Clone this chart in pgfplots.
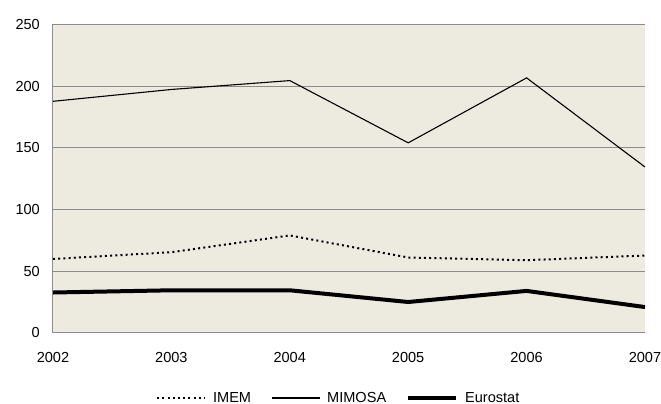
\documentclass[border=0pt]{standalone}
\usepackage{pgfplots}
\pgfplotsset{compat=1.18}
\usepackage{fontspec}
\setmainfont{Liberation Sans}
\definecolor{bgc}{HTML}{EDEAE0}
\definecolor{gridc}{HTML}{8C8C8C}
\begin{document}
\begin{tikzpicture}[x=1bp,y=1bp]
\begin{axis}[
  at={(0,0)}, anchor=south west,
  scale only axis, width=592bp, height=308.2bp,
  xmin=2002, xmax=2007, ymin=0, ymax=250,
  xtick={2002,...,2007}, ytick={0,50,...,250},
  xticklabel style={/pgf/number format/1000 sep={}, anchor=center, yshift=-25bp},
  yticklabel style={anchor=east, xshift=-13bp},
  /pgf/number format/assume math mode=true,
  tick label style={font=\fontsize{14.6}{16}\selectfont, inner sep=0pt},
  major tick length=0pt,
  ymajorgrids, grid style={gridc, line width=0.9bp},
  axis background/.style={fill=bgc},
  axis x line*=bottom, axis y line*=left,
  axis line style={gridc, line width=1bp, -},
  legend style={at={(0.481,-0.212)}, anchor=center, draw=none, fill=none,
    legend columns=3, font=\fontsize{14.6}{16}\selectfont,
    inner sep=0pt, nodes={inner sep=0pt},
    /tikz/every odd column/.append style={column sep=7bp},
    /tikz/every even column/.append style={column sep=20bp}},
  legend image code/.code={\draw[#1] (0bp,0bp) -- (48bp,0bp);},
]
\addplot[black, line width=2bp, dash pattern=on 2bp off 3.2bp] coordinates {
(2002,59.8) (2003,65.3) (2004,78.9) (2005,61.0) (2006,58.8) (2007,62.6)};
\addlegendentry{IMEM}
\addplot[black, line width=1.1bp] coordinates {
(2002,187.7) (2003,197.3) (2004,204.5) (2005,154.0) (2006,206.7) (2007,134.4)};
\addlegendentry{MIMOSA}
\addplot[black, line width=4bp] coordinates {
(2002,32.6) (2003,34.4) (2004,34.4) (2005,24.9) (2006,33.9) (2007,20.8)};
\addlegendentry{Eurostat}
\end{axis}
\pgfresetboundingbox
\useasboundingbox (-53bp,-71.3bp) rectangle (608bp,332.7bp);
\end{tikzpicture}
\end{document}
